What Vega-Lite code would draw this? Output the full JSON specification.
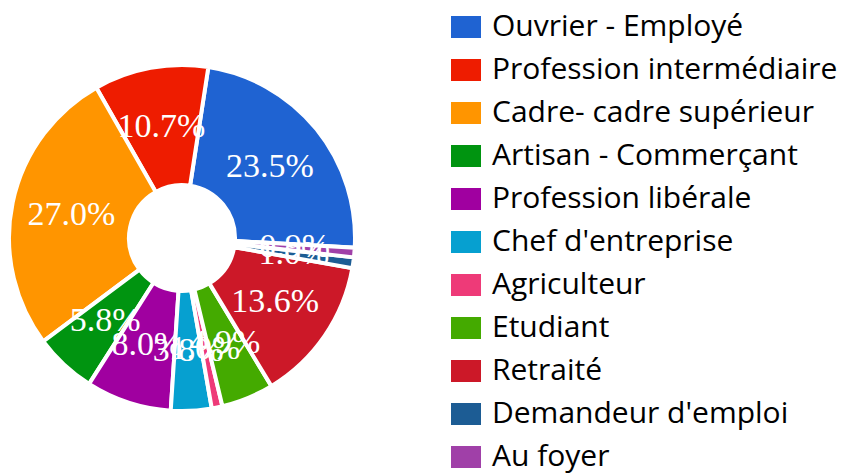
{
  "$schema": "https://vega.github.io/schema/vega-lite/v6.json",
  "width": 364,
  "height": 476,
  "padding": 0,
  "background": "white",
  "view": {"stroke": null},
  "data": {
    "values": [
      {"k": 1, "cat": "Ouvrier - Employé", "v": 23.5, "label": "23.5%"},
      {"k": 2, "cat": "Profession intermédiaire", "v": 10.7, "label": "10.7%"},
      {"k": 3, "cat": "Cadre- cadre supérieur", "v": 27.0, "label": "27.0%"},
      {"k": 4, "cat": "Artisan - Commerçant", "v": 5.8, "label": "5.8%"},
      {"k": 5, "cat": "Profession libérale", "v": 8.0, "label": "8.0%"},
      {"k": 6, "cat": "Chef d'entreprise", "v": 3.8, "label": "3.8%"},
      {"k": 7, "cat": "Agriculteur", "v": 1.0, "label": "1.0%"},
      {"k": 8, "cat": "Etudiant", "v": 4.9, "label": "4.9%"},
      {"k": 9, "cat": "Retraité", "v": 13.6, "label": "13.6%"},
      {"k": 10, "cat": "Demandeur d'emploi", "v": 1.0, "label": "1.0%"},
      {"k": 11, "cat": "Au foyer", "v": 0.9, "label": "0.9%"}
    ]
  },
  "encoding": {
    "theta": {"field": "v", "type": "quantitative", "stack": true, "scale": {"range": [1.6266, -4.6566]}},
    "order": {"field": "k", "type": "quantitative"},
    "color": {
      "field": "cat",
      "type": "nominal",
      "scale": {
        "domain": ["Ouvrier - Employé", "Profession intermédiaire", "Cadre- cadre supérieur", "Artisan - Commerçant", "Profession libérale", "Chef d'entreprise", "Agriculteur", "Etudiant", "Retraité", "Demandeur d'emploi", "Au foyer"],
        "range": ["#1f63d2", "#ee1c00", "#ff9500", "#009410", "#a000a0", "#06a0d0", "#ee3a78", "#44aa00", "#cc1828", "#1c5c94", "#a040a8"]
      },
      "legend": {
        "orient": "none",
        "legendX": 451,
        "legendY": 12,
        "title": null,
        "labelFont": "Open Sans",
        "labelFontSize": 30,
        "labelLimit": 400,
        "labelOffset": 11,
        "rowPadding": 13,
        "symbolType": "M-1,-0.733H1V0.733H-1Z",
        "symbolSize": 900,
        "symbolStrokeWidth": 0,
        "symbolOpacity": 1,
        "encode": {
          "labels": {"update": {"fill": {"scale": "color", "field": "value"}}}
        }
      }
    }
  },
  "layer": [
    {
      "mark": {"type": "arc", "innerRadius": 53, "outerRadius": 173, "stroke": "white", "strokeWidth": 4}
    },
    {
      "mark": {"type": "text", "radius": 113, "font": "Liberation Serif", "fontSize": 34, "fill": "white", "align": "center", "baseline": "middle"},
      "encoding": {
        "text": {"field": "label", "type": "nominal"},
        "color": {"value": "white"}
      }
    }
  ]
}
